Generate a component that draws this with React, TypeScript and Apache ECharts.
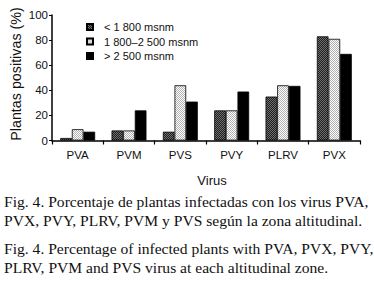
import React, { useEffect, useRef } from "react";
import * as echarts from "echarts";

const categories = ["PVA", "PVM", "PVS", "PVY", "PLRV", "PVX"];
const seriesNames = ["< 1 800 msnm", "1 800–2 500 msnm", "> 2 500 msnm"];
const lowZone = [2, 8, 7, 24, 35, 83];
const midZone = [9, 8, 44, 24, 44, 81];
const highZone = [7, 24, 31, 39, 43.5, 69];
const yAxisTitle = "Plantas positivas (%)";
const xAxisTitle = "Virus";
const captionEs = [
  "Fig. 4. Porcentaje de plantas infectadas con los virus PVA,",
  "PVX, PVY, PLRV, PVM y PVS según la zona altitudinal.",
];
const captionEn = [
  "Fig. 4. Percentage of infected plants with PVA, PVX, PVY,",
  "PLRV, PVM and PVS virus at each altitudinal zone.",
];

function makePattern(a: string, b: string): HTMLCanvasElement {
  const c = document.createElement("canvas");
  c.width = 2;
  c.height = 2;
  const ctx = c.getContext("2d")!;
  ctx.fillStyle = a;
  ctx.fillRect(0, 0, 2, 2);
  ctx.fillStyle = b;
  ctx.fillRect(0, 0, 1, 1);
  ctx.fillRect(1, 1, 1, 1);
  return c;
}

const SANS = "'Liberation Sans Narrow', Arial, 'Liberation Sans', sans-serif";
const SERIF = "'Liberation Serif', 'Times New Roman', serif";

export default function App() {
  const ref = useRef<HTMLDivElement>(null);
  useEffect(() => {
    document.body.style.margin = "0";
    if (!ref.current) return;
    const chart = echarts.init(ref.current, null, { renderer: "svg" });
    const darkPat = makePattern("#1e1e1e", "#707070");
    const lightPat = makePattern("#ffffff", "#b0b0b0");
    const fills: any[] = [
      { image: darkPat, repeat: "repeat" },
      { image: lightPat, repeat: "repeat" },
      "#000000",
    ];
    const dataSets = [lowZone, midZone, highZone];
    const captionTexts: any[] = [];
    const lines = [captionEs[0], captionEs[1], captionEn[0], captionEn[1]];
    const ys = [201, 220, 248, 267];
    lines.forEach((t, i) => {
      captionTexts.push({
        type: "text",
        x: 4,
        y: ys[i],
        style: {
          text: t,
          font: `15.6px ${SERIF}`,
          fill: "#111",
          textVerticalAlign: "middle",
          textAlign: "left",
        },
      });
    });
    chart.setOption({
      animation: false,
      backgroundColor: "#fff",
      grid: { left: 52, right: 14, top: 15, bottom: 156.5, containLabel: false },
      legend: {
        orient: "vertical",
        left: 81,
        top: 16,
        itemWidth: 6,
        itemHeight: 6,
        itemGap: 2.5,
        icon: "rect",
        data: seriesNames,
        textStyle: { fontSize: 11, fontFamily: SANS, color: "#111", lineHeight: 12, padding: [0, 0, 0, 6] },
      },
      xAxis: {
        type: "category",
        data: categories,
        boundaryGap: true,
        axisLine: { lineStyle: { color: "#000", width: 1.5 } },
        axisTick: { show: true, length: 4, lineStyle: { color: "#000", width: 1.2 } },
        axisLabel: { fontSize: 11.5, fontFamily: SANS, color: "#111", margin: 8 },
      },
      yAxis: {
        type: "value",
        min: 0,
        max: 100,
        interval: 20,
        splitLine: { show: false },
        axisLine: { show: true, lineStyle: { color: "#000", width: 1.5 } },
        axisTick: { show: true, length: 3, lineStyle: { color: "#000" } },
        axisLabel: { fontSize: 11.5, fontFamily: SANS, color: "#111", margin: 4 },
      },
      series: dataSets.map((d, i) => ({
        type: "bar",
        name: seriesNames[i],
        data: d,
        barGap: "0%",
        barCategoryGap: "32%",
        itemStyle: { color: fills[i], borderColor: "#000", borderWidth: 0.8 },
      })),
      graphic: [
        {
          type: "text",
          x: 16,
          y: 74,
          rotation: Math.PI / 2,
          style: {
            text: yAxisTitle,
            font: `14.3px ${SANS}`,
            fill: "#111",
            textAlign: "center",
            textVerticalAlign: "middle",
          },
        },
        {
          type: "text",
          x: 212,
          y: 180,
          style: {
            text: xAxisTitle,
            font: `13px ${SANS}`,
            fill: "#111",
            textAlign: "center",
            textVerticalAlign: "middle",
          },
        },
        ...captionTexts,
      ],
    });
    return () => chart.dispose();
  }, []);
  return <div ref={ref} style={{ width: 374, height: 297 }} />;
}
